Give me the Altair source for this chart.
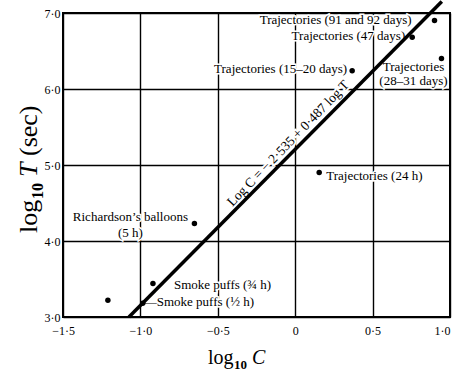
import altair as alt
import pandas as pd

# ---- data ----
point_names = ["unlabelled", "smoke_half", "smoke_3q", "richardson", "traj_24h",
               "traj_15_20", "traj_28_31", "traj_47", "traj_91_92"]
log_c = [-1.21, -0.985, -0.919, -0.651, 0.155, 0.368, 0.945, 0.756, 0.900]
log_t = [3.22, 3.18, 3.44, 4.23, 4.90, 6.24, 6.40, 6.68, 6.90]

fit_intercept = -2.535
fit_slope = 0.487
fit_log_t = [3.0, 7.15]

x_ticks = [-1.5, -1.0, -0.5, 0.0, 0.5, 1.0]
y_ticks = [3.0, 4.0, 5.0, 6.0, 7.0]

# label text, point it belongs to, pixel offsets, alignment
labels = [
    ("Trajectories (91 and 92 days)", "traj_91_92", -23, -1, "right"),
    ("Trajectories (47 days)", "traj_47", -7, -1, "right"),
    ("Trajectories (15\u201320 days)", "traj_15_20", -5, -2, "right"),
    ("Trajectories", "traj_28_31", -28, 8, "center"),
    ("(28\u201331 days)", "traj_28_31", -28, 22, "center"),
    ("Trajectories (24 h)", "traj_24h", 7, 3, "left"),
    ("Richardson\u2019s balloons", "richardson", -64, -7, "center"),
    ("(5 h)", "richardson", -64, 9, "center"),
    ("Smoke puffs (\u00be h)", "smoke_3q", 21, 1, "left"),
    ("\u2014Smoke puffs (\u00bd h)", "smoke_half", 1, -1, "left"),
]

FONT = "Liberation Serif"
W, H = 387, 304

points = pd.DataFrame({"name": point_names, "logC": log_c, "logT": log_t})
fit = pd.DataFrame({"logT": fit_log_t})
fit["logC"] = fit_intercept + fit_slope * fit["logT"]

xscale = alt.Scale(domain=[-1.5, 1.0], nice=False, zero=False)
yscale = alt.Scale(domain=[3.0, 7.0], nice=False, zero=False)

x_enc = alt.X("logC:Q", scale=xscale, axis=alt.Axis(
    values=x_ticks, title=None, grid=True, ticks=False, domain=False,
    labelExpr="datum.value == 0 ? '0' : replace(replace(format(datum.value, '.1f'), '.', '\u00b7'), '-', '\u2212')",
    labelAlign={"condition": {"test": "datum.value >= 1", "value": "right"}, "value": "center"},
    labelFont=FONT, labelFontSize=12, labelColor="black", labelPadding=8,
    labelFlush=False, labelOverlap=False,
    gridColor="black", gridWidth=1.4, gridOpacity=1))
y_enc = alt.Y("logT:Q", scale=yscale, axis=alt.Axis(
    values=y_ticks, title=None, grid=True, ticks=False, domain=False,
    labelExpr="replace(format(datum.value, '.1f'), '.', '\u00b7')",
    labelFont=FONT, labelFontSize=12, labelColor="black", labelPadding=3,
    labelFlush=False, labelOverlap=False,
    gridColor="black", gridWidth=1.4, gridOpacity=1))

base_pts = alt.Chart(points)

halos = []
texts = []
for txt, nm, dx, dy, al in labels:
    sel = base_pts.transform_filter(alt.datum.name == nm)
    halos.append(sel.mark_text(text=txt, font=FONT, fontSize=13, align=al, baseline="middle",
                               dx=dx, dy=dy, color="white", stroke="white", strokeWidth=3)
                 .encode(x=alt.X("logC:Q", scale=xscale), y=alt.Y("logT:Q", scale=yscale)))
    texts.append(sel.mark_text(text=txt, font=FONT, fontSize=13, align=al, baseline="middle",
                               dx=dx, dy=dy, color="black")
                 .encode(x=alt.X("logC:Q", scale=xscale), y=alt.Y("logT:Q", scale=yscale)))

# equation label placed along the fitted line
eq_pos = pd.DataFrame({"logT": [5.2]})
eq_pos["logC"] = fit_intercept + fit_slope * eq_pos["logT"]
eq_text = "Log C = \u2212 2\u00b7535 + 0\u00b7487 log T"
eq_kw = dict(text=eq_text, font=FONT, fontSize=13.5, align="center", baseline="alphabetic",
             angle=314, dy=-5)
eq_halo = alt.Chart(eq_pos).mark_text(color="white", stroke="white", strokeWidth=4, **eq_kw).encode(
    x=alt.X("logC:Q", scale=xscale), y=alt.Y("logT:Q", scale=yscale))
eq_lab = alt.Chart(eq_pos).mark_text(color="black", **eq_kw).encode(
    x=alt.X("logC:Q", scale=xscale), y=alt.Y("logT:Q", scale=yscale))

line = alt.Chart(fit).mark_line(color="black", strokeWidth=3.5, clip=False).encode(
    x=alt.X("logC:Q", scale=xscale), y=alt.Y("logT:Q", scale=yscale))

pts = base_pts.mark_circle(color="black", opacity=1, size=30).encode(x=x_enc, y=y_enc)

one = pd.DataFrame({"k": [0]})

def piece(txt, x, y, size, dx=0, dy=0, angle=0, style="normal", weight="normal"):
    kw = dict(text=txt, font=FONT, fontSize=size, align="left", baseline="alphabetic",
              dx=dx, dy=dy, fontStyle=style, fontWeight=weight, color="black")
    if angle:
        kw["angle"] = angle
    return alt.Chart(one).mark_text(**kw).encode(x=alt.value(x), y=alt.value(y))

# x title: log10 C
xt = [piece("log", 145, 351, 20),
      piece("10", 145, 351, 13, dx=26, dy=5, weight="bold"),
      piece("C", 145, 351, 20, dx=44, style="italic")]
# y title: log10 T (sec), rotated
yt = [piece("log", -26, 220, 26, angle=270),
      piece("10", -26, 220, 16, dx=34, dy=6, angle=270, weight="bold"),
      piece("T", -26, 220, 26, dx=56, angle=270, style="italic"),
      piece("(sec)", -26, 220, 26, dx=77, angle=270)]

chart = alt.layer(*halos, eq_halo, pts, line, eq_lab, *texts, *xt, *yt).properties(
    width=W, height=H,
    autosize=alt.AutoSizeParams(type="none"),
    padding={"left": 63, "top": 13, "right": 5, "bottom": 56},
    background="white",
).configure_view(stroke="black", strokeWidth=2)

chart.save("out.html", embed_options={"renderer": "svg", "actions": False})
